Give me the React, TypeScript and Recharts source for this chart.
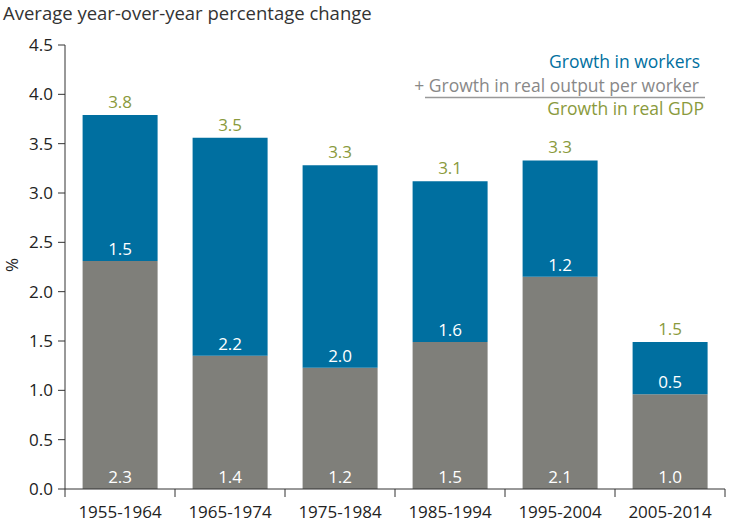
import { BarChart, Bar, XAxis, YAxis, LabelList } from "recharts";

const periods = ["1955-1964", "1965-1974", "1975-1984", "1985-1994", "1995-2004", "2005-2014"];
// bar heights
const outputPerWorker = [2.31, 1.35, 1.23, 1.49, 2.15, 0.96];
const workers = [1.48, 2.21, 2.05, 1.63, 1.18, 0.53];
// printed labels
const outputLabels = ["2.3", "1.4", "1.2", "1.5", "2.1", "1.0"];
const workerLabels = ["1.5", "2.2", "2.0", "1.6", "1.2", "0.5"];
const gdpLabels = ["3.8", "3.5", "3.3", "3.1", "3.3", "1.5"];
const yTicks = [0, 0.5, 1, 1.5, 2, 2.5, 3, 3.5, 4, 4.5];

const BLUE = "#006fa0";
const GRAY = "#7f7f7a";
const OLIVE = "#8a9a3c";
const FONT = "'Open Sans', sans-serif";

const data = periods.map((p, i) => ({
  period: p,
  output: outputPerWorker[i],
  workers: workers[i],
  outputLabel: outputLabels[i],
  workerLabel: workerLabels[i],
  gdpLabel: gdpLabels[i],
}));

const W = 732;
const H = 530;
const LEFT = 65;
const RIGHT = 7;
const band = (W - LEFT - RIGHT) / periods.length;

function XTick(props: any) {
  const { x, y, payload, index } = props;
  return (
    <g>
      <line x1={x - band / 2} x2={x - band / 2} y1={y - 8} y2={y} stroke="#333" />
      {index === periods.length - 1 && (
        <line x1={x + band / 2} x2={x + band / 2} y1={y - 8} y2={y} stroke="#333" />
      )}
      <text x={x} y={y + 21} textAnchor="middle" fill="#222" fontSize={17} fontFamily={FONT}>
        {payload.value}
      </text>
    </g>
  );
}

function bottomLabel(props: any) {
  const { x, y, width, height, value } = props;
  return (
    <text x={x + width / 2} y={y + height - 6} textAnchor="middle" fill="#fff" fontSize={17} fontFamily={FONT}>
      {value}
    </text>
  );
}

function topLabel(props: any) {
  const { x, y, width, value } = props;
  return (
    <text x={x + width / 2} y={y - 7} textAnchor="middle" fill={OLIVE} fontSize={17} fontFamily={FONT}>
      {value}
    </text>
  );
}

export default function App() {
  return (
    <div style={{ position: "absolute", left: 0, top: 0, width: W, height: H, background: "#fff" }}>
      <BarChart
        width={W}
        height={H}
        data={data}
        margin={{ top: 45, right: RIGHT, left: 0, bottom: 0 }}
        barCategoryGap="16%"
      >
        <XAxis
          dataKey="period"
          height={41}
          axisLine={{ stroke: "#333" }}
          tickLine={false}
          tick={<XTick />}
          interval={0}
        />
        <YAxis
          width={LEFT}
          domain={[0, 4.5]}
          ticks={yTicks}
          tickFormatter={(v: number) => v.toFixed(1)}
          axisLine={{ stroke: "#333" }}
          tickLine={{ stroke: "#333" }}
          tickSize={7}
          tickMargin={5}
          tick={{ fill: "#222", fontSize: 17, fontFamily: FONT }}
        />
        <Bar dataKey="output" stackId="a" fill={GRAY} isAnimationActive={false}>
          <LabelList dataKey="outputLabel" content={bottomLabel} />
        </Bar>
        <Bar dataKey="workers" stackId="a" fill={BLUE} isAnimationActive={false}>
          <LabelList dataKey="workerLabel" content={bottomLabel} />
          <LabelList dataKey="gdpLabel" content={topLabel} />
        </Bar>
      </BarChart>

      <svg
        width={W}
        height={H}
        style={{ position: "absolute", left: 0, top: 0, pointerEvents: "none" }}
        fontFamily={FONT}
      >
        <text x={3} y={20} fontSize={18.5} fill="#333">
          Average year-over-year percentage change
        </text>
        <text x={18} y={265} fontSize={17} fill="#222" textAnchor="middle" transform="rotate(-90 18 265)">
          %
        </text>
        <text x={700} y={68} fontSize={17.5} fill={BLUE} textAnchor="end">
          Growth in workers
        </text>
        <text x={699} y={92} fontSize={17.5} fill="#888" textAnchor="end">
          + Growth in real output per worker
        </text>
        <line x1={425} x2={705} y1={97.5} y2={97.5} stroke="#999" strokeWidth={1.5} />
        <text x={704} y={115} fontSize={17.5} fill={OLIVE} textAnchor="end">
          Growth in real GDP
        </text>
      </svg>
    </div>
  );
}
